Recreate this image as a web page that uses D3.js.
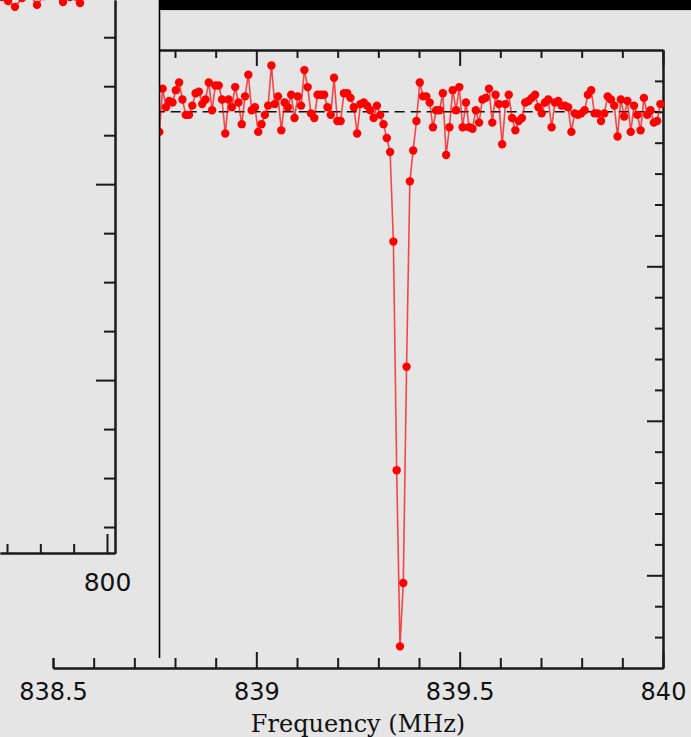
<!DOCTYPE html>
<html>
<head>
<meta charset="utf-8">
<script src="https://cdn.jsdelivr.net/npm/d3@7"></script>
<style>
  body { margin: 0; background: #e5e5e5; }
  svg { display: block; }
</style>
</head>
<body>
<div id="chart"></div>
<script>
// main spectrum: channel 0 frequency and channel spacing (MHz)
var startFreq = 838.7615
var chanWidth = 0.008106
var power = [
  1087, 1115, 1103, 1107, 1106, 1114, 1119, 1108, 1098, 1098,
  1104, 1112, 1113, 1105, 1108, 1119, 1101, 1117, 1117, 1108,
  1086, 1108, 1103, 1116, 1106, 1092, 1110, 1124, 1101, 1103,
  1087, 1092, 1098, 1104, 1130, 1105, 1110, 1088, 1106, 1103,
  1111, 1096, 1110, 1104, 1127, 1116, 1099, 1096, 1111, 1111,
  1111, 1103, 1098, 1122, 1094, 1094, 1112, 1112, 1109, 1103,
  1086, 1105, 1106, 1104, 1101, 1096, 1104, 1098, 1092, 1083,
  1074, 1016, 868, 754, 795, 935, 1055, 1075, 1094, 1119,
  1110, 1110, 1106, 1090, 1101, 1101, 1112, 1072, 1090, 1114,
  1101, 1116, 1090, 1106, 1090, 1089, 1101, 1093, 1108, 1109,
  1115, 1093, 1111, 1105, 1079, 1105, 1111, 1096, 1088, 1094,
  1096, 1106, 1107, 1109, 1111, 1103, 1099, 1106, 1108, 1090,
  1106, 1107, 1104, 1104, 1103, 1087, 1099, 1098, 1099, 1101,
  1111, 1114, 1099, 1099, 1094, 1099, 1110, 1108, 1104, 1084,
  1108, 1097, 1107, 1087, 1104, 1098, 1088, 1109, 1098, 1101,
  1093, 1094, 1105
]
var baseline = 1100

var freqMajor = [838.5, 839, 839.5, 840]
var freqMinor = [838.6, 838.7, 838.8, 838.9, 839.1, 839.2, 839.3, 839.4, 839.6, 839.7, 839.8, 839.9]
var powerMajor = [800, 900, 1000]
var powerMinor = [760, 780, 820, 840, 860, 880, 920, 940, 960, 980, 1020, 1040, 1060, 1080, 1100, 1120]

// partly hidden panel on the left
var leftX = [768.5, 770.3, 772.4, 774.5, 776.9, 779.0, 781.1, 784.4, 786.8, 788.9, 791.9]
var leftY = [1.191, 1.187, 1.181, 1.190, 1.193, 1.183, 1.192, 1.194, 1.186, 1.191, 1.185]
var leftXMajor = [800]
var leftXMinor = [770, 780, 790]
var leftYMajor = [0.8, 1.0]
var leftYMinor = [0.65, 0.7, 0.75, 0.85, 0.9, 0.95, 1.05, 1.1, 1.15]

var width = 691
var height = 737
var ink = '#1a1a1a'
var red = '#ff0000'

var svg = d3.select('#chart')
  .append('svg')
  .attr('width', width)
  .attr('height', height)

svg.append('rect').attr('width', width).attr('height', height).attr('fill', '#e5e5e5')

function styleAxis(g) {
  g.select('.domain').attr('stroke', ink).attr('stroke-width', 2)
  g.selectAll('.tick line').attr('stroke', ink).attr('stroke-width', 2)
  g.selectAll('.tick text').attr('fill', '#111')
  g.attr('font-family', 'DejaVu Sans, sans-serif').attr('font-size', 24)
}

function drawMain() {
  var x = d3.scaleLinear().domain([838.5, 840]).range([53, 663])
  var y = d3.scaleLinear().domain([740, 1140]).range([668, 50])
  var data = power.map((v, i) => ({ f: startFreq + i * chanWidth, v: v }))

  // frame: top and left
  svg.append('g').attr('transform', 'translate(0,50)')
    .call(d3.axisBottom(x).tickValues(freqMinor).tickSize(8).tickSizeOuter(0).tickFormat(''))
    .call(styleAxis)
  svg.append('g').attr('transform', 'translate(0,50)')
    .call(d3.axisBottom(x).tickValues(freqMajor).tickSize(16).tickSizeOuter(0).tickFormat(''))
    .call(styleAxis)
  svg.append('g').attr('transform', 'translate(53,0)')
    .call(d3.axisLeft(y).tickValues([]).tickSizeOuter(0))
    .call(styleAxis)

  // right axis, ticks inward
  svg.append('g').attr('transform', 'translate(663,0)')
    .call(d3.axisRight(y).tickValues(powerMinor).tickSize(-8).tickSizeOuter(0).tickFormat(''))
    .call(styleAxis)
  svg.append('g').attr('transform', 'translate(663,0)')
    .call(d3.axisRight(y).tickValues(powerMajor).tickSize(-16).tickSizeOuter(0).tickFormat(''))
    .call(styleAxis)

  // bottom axis, ticks inward, labels below
  svg.append('g').attr('transform', 'translate(0,668)')
    .call(d3.axisBottom(x).tickValues(freqMinor).tickSize(-10).tickSizeOuter(0).tickFormat(''))
    .call(styleAxis)
  svg.append('g').attr('transform', 'translate(0,668)')
    .call(d3.axisBottom(x).tickValues(freqMajor).tickSize(-16).tickSizeOuter(0).tickPadding(15).tickFormat(d3.format('')))
    .call(styleAxis)

  svg.append('text')
    .attr('x', 358)
    .attr('y', 732)
    .attr('text-anchor', 'middle')
    .attr('font-family', 'DejaVu Serif, serif')
    .attr('font-size', 24)
    .attr('fill', '#111')
    .text('Frequency (MHz)')

  // expected level
  svg.append('line')
    .attr('x1', x(838.75)).attr('x2', x(840))
    .attr('y1', y(baseline)).attr('y2', y(baseline))
    .attr('stroke', '#111').attr('stroke-width', 1.6)
    .attr('stroke-dasharray', '10,6')

  svg.append('path')
    .datum(data)
    .attr('fill', 'none')
    .attr('stroke', red)
    .attr('stroke-opacity', 0.7)
    .attr('stroke-width', 1.6)
    .attr('d', d3.line().x(d => x(d.f)).y(d => y(d.v)))

  svg.append('g')
    .selectAll('circle')
    .data(data)
    .join('circle')
    .attr('cx', d => x(d.f))
    .attr('cy', d => y(d.v))
    .attr('r', 4.2)
    .attr('fill', '#f00')
}

function drawLeftPanel() {
  // window laid over the left part of the main plot
  svg.append('rect')
    .attr('x', 0).attr('y', 0)
    .attr('width', 159).attr('height', 658)
    .attr('fill', '#e5e5e5')
  svg.append('line')
    .attr('x1', 159.5).attr('x2', 159.5)
    .attr('y1', 0).attr('y2', 658)
    .attr('stroke', '#000').attr('stroke-width', 1.6)

  var x = d3.scaleLinear().domain([767.9, 802.4]).range([0, 115])
  var y = d3.scaleLinear().domain([0.6235, 1.188]).range([553, 0])

  svg.append('g').attr('transform', 'translate(115,0)')
    .call(d3.axisRight(y).tickValues(leftYMinor).tickSize(-11).tickSizeOuter(0).tickFormat(''))
    .call(styleAxis)
  svg.append('g').attr('transform', 'translate(115,0)')
    .call(d3.axisRight(y).tickValues(leftYMajor).tickSize(-19).tickSizeOuter(0).tickFormat(''))
    .call(styleAxis)
  svg.append('g').attr('transform', 'translate(0,553)')
    .call(d3.axisBottom(x).tickValues(leftXMinor).tickSize(-9).tickSizeOuter(0).tickFormat(''))
    .call(styleAxis)
  svg.append('g').attr('transform', 'translate(0,553)')
    .call(d3.axisBottom(x).tickValues(leftXMajor).tickSize(-19).tickSizeOuter(0).tickPadding(20))
    .call(styleAxis)
    .attr('font-size', 25)

  var pts = leftX.map((v, i) => [x(v), y(leftY[i])])
  svg.append('path')
    .datum(pts)
    .attr('fill', 'none')
    .attr('stroke', red)
    .attr('stroke-opacity', 0.7)
    .attr('stroke-width', 1.6)
    .attr('d', d3.line())
  svg.append('g')
    .selectAll('circle')
    .data(pts)
    .join('circle')
    .attr('cx', d => d[0])
    .attr('cy', d => d[1])
    .attr('r', 4.2)
    .attr('fill', '#f00')

  // title bar of the window behind
  svg.append('rect')
    .attr('x', 160).attr('y', 0)
    .attr('width', width - 160).attr('height', 10)
    .attr('fill', '#000')
  svg.append('line')
    .attr('x1', 160).attr('x2', width)
    .attr('y1', 10.5).attr('y2', 10.5)
    .attr('stroke', '#cfcfcf').attr('stroke-width', 1)
}

drawMain()
drawLeftPanel()
</script>
</body>
</html>
